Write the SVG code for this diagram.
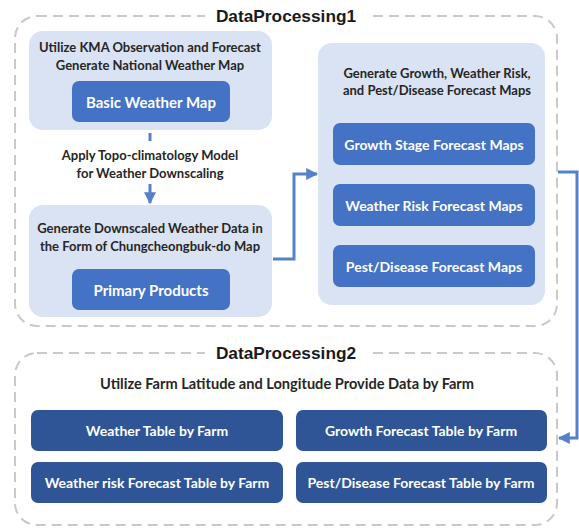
<svg xmlns="http://www.w3.org/2000/svg" width="579" height="528" viewBox="0 0 579 528">
<style>
.dash{fill:none;stroke:#C9C9C9;stroke-width:2;stroke-dasharray:10 6}
.title{font-family:"Liberation Sans",Arial,sans-serif;font-weight:bold;font-size:17.3px;fill:#1a1a1a;text-anchor:middle;dominant-baseline:central}
.light{fill:#DAE3F3}
.mid{fill:#4472C4}
.dark{fill:#2F5597}
.lt{font-family:Lato,"Open Sans",sans-serif;font-weight:bold;font-size:13px;fill:#262626;text-anchor:middle;dominant-baseline:central}
.wt{font-family:Lato,"Open Sans",sans-serif;font-weight:bold;font-size:14px;fill:#ffffff;text-anchor:middle;dominant-baseline:central}
.conn{fill:none;stroke:#5680CA;stroke-width:3}
</style>
<defs>
<marker id="ah" viewBox="0 0 10 10" refX="9" refY="5" markerWidth="4" markerHeight="4" orient="auto" markerUnits="strokeWidth">
<path d="M0,0 L10,5 L0,10 Z" fill="#5680CA"/>
</marker>
</defs>
<rect x="0" y="0" width="579" height="528" fill="#ffffff"/>

<g id="dp1">
<rect class="dash" x="15" y="16" width="542" height="310" rx="22"/>
<rect x="205" y="4" width="163" height="24" fill="#ffffff"/>
<text class="title" x="286" y="16">DataProcessing1</text>
</g>

<g id="dp2">
<rect class="dash" x="15" y="353" width="542" height="172" rx="22"/>
<rect x="205" y="341" width="163" height="24" fill="#ffffff"/>
<text class="title" x="286" y="353">DataProcessing2</text>
<text class="lt" x="287" y="383" style="font-size:14.6px">Utilize Farm Latitude and Longitude Provide Data by Farm</text>
</g>

<g id="national">
<rect class="light" x="29" y="31" width="243" height="99" rx="14"/>
<text class="lt" x="150" y="47">Utilize KMA Observation and Forecast</text>
<text class="lt" x="150" y="65">Generate National Weather Map</text>
<rect class="mid" x="72" y="81" width="158" height="41" rx="7"/>
<text class="wt" x="151" y="102" style="font-size:15px">Basic Weather Map</text>
</g>

<g id="topo">
<text class="lt" x="150" y="155">Apply Topo-climatology Model</text>
<text class="lt" x="150" y="173">for Weather Downscaling</text>
</g>

<g id="downscaled">
<rect class="light" x="29" y="205" width="243" height="112" rx="14"/>
<text class="lt" x="150" y="228">Generate Downscaled Weather Data in</text>
<text class="lt" x="150" y="246">the Form of Chungcheongbuk-do Map</text>
<rect class="mid" x="72" y="269" width="158" height="41" rx="7"/>
<text class="wt" x="151" y="290" style="font-size:15px">Primary Products</text>
</g>

<g id="forecastmaps">
<rect class="light" x="318" y="43" width="227" height="262" rx="14"/>
<text class="lt" x="437" y="73">Generate Growth, Weather Risk,</text>
<text class="lt" x="437" y="90">and Pest/Disease Forecast Maps</text>
<rect class="mid" x="333" y="123" width="202" height="42" rx="7"/>
<text class="wt" x="434" y="144">Growth Stage Forecast Maps</text>
<rect class="mid" x="333" y="184" width="202" height="42" rx="7"/>
<text class="wt" x="434" y="205">Weather Risk Forecast Maps</text>
<rect class="mid" x="333" y="245" width="202" height="42" rx="7"/>
<text class="wt" x="434" y="266">Pest/Disease Forecast Maps</text>
</g>

<g id="weathertable">
<rect class="dark" x="31" y="410" width="252" height="41" rx="7"/>
<text class="wt" x="157" y="430">Weather Table by Farm</text>
</g>
<g id="growthtable">
<rect class="dark" x="296" y="410" width="251" height="41" rx="7"/>
<text class="wt" x="421" y="430">Growth Forecast Table by Farm</text>
</g>
<g id="risktable">
<rect class="dark" x="31" y="462" width="252" height="41" rx="7"/>
<text class="wt" x="157" y="482">Weather risk Forecast Table by Farm</text>
</g>
<g id="pesttable">
<rect class="dark" x="296" y="462" width="251" height="41" rx="7"/>
<text class="wt" x="421" y="482">Pest/Disease Forecast Table by Farm</text>
</g>

<g id="connectors">
<line class="conn" x1="150" y1="133" x2="150" y2="141"/>
<line class="conn" x1="150" y1="184" x2="150" y2="203" marker-end="url(#ah)"/>
<polyline class="conn" points="273,259 294,259 294,174 317,174" marker-end="url(#ah)"/>
<polyline class="conn" points="558,172 577,172 577,438 559,438" marker-end="url(#ah)"/>
</g>
</svg>
